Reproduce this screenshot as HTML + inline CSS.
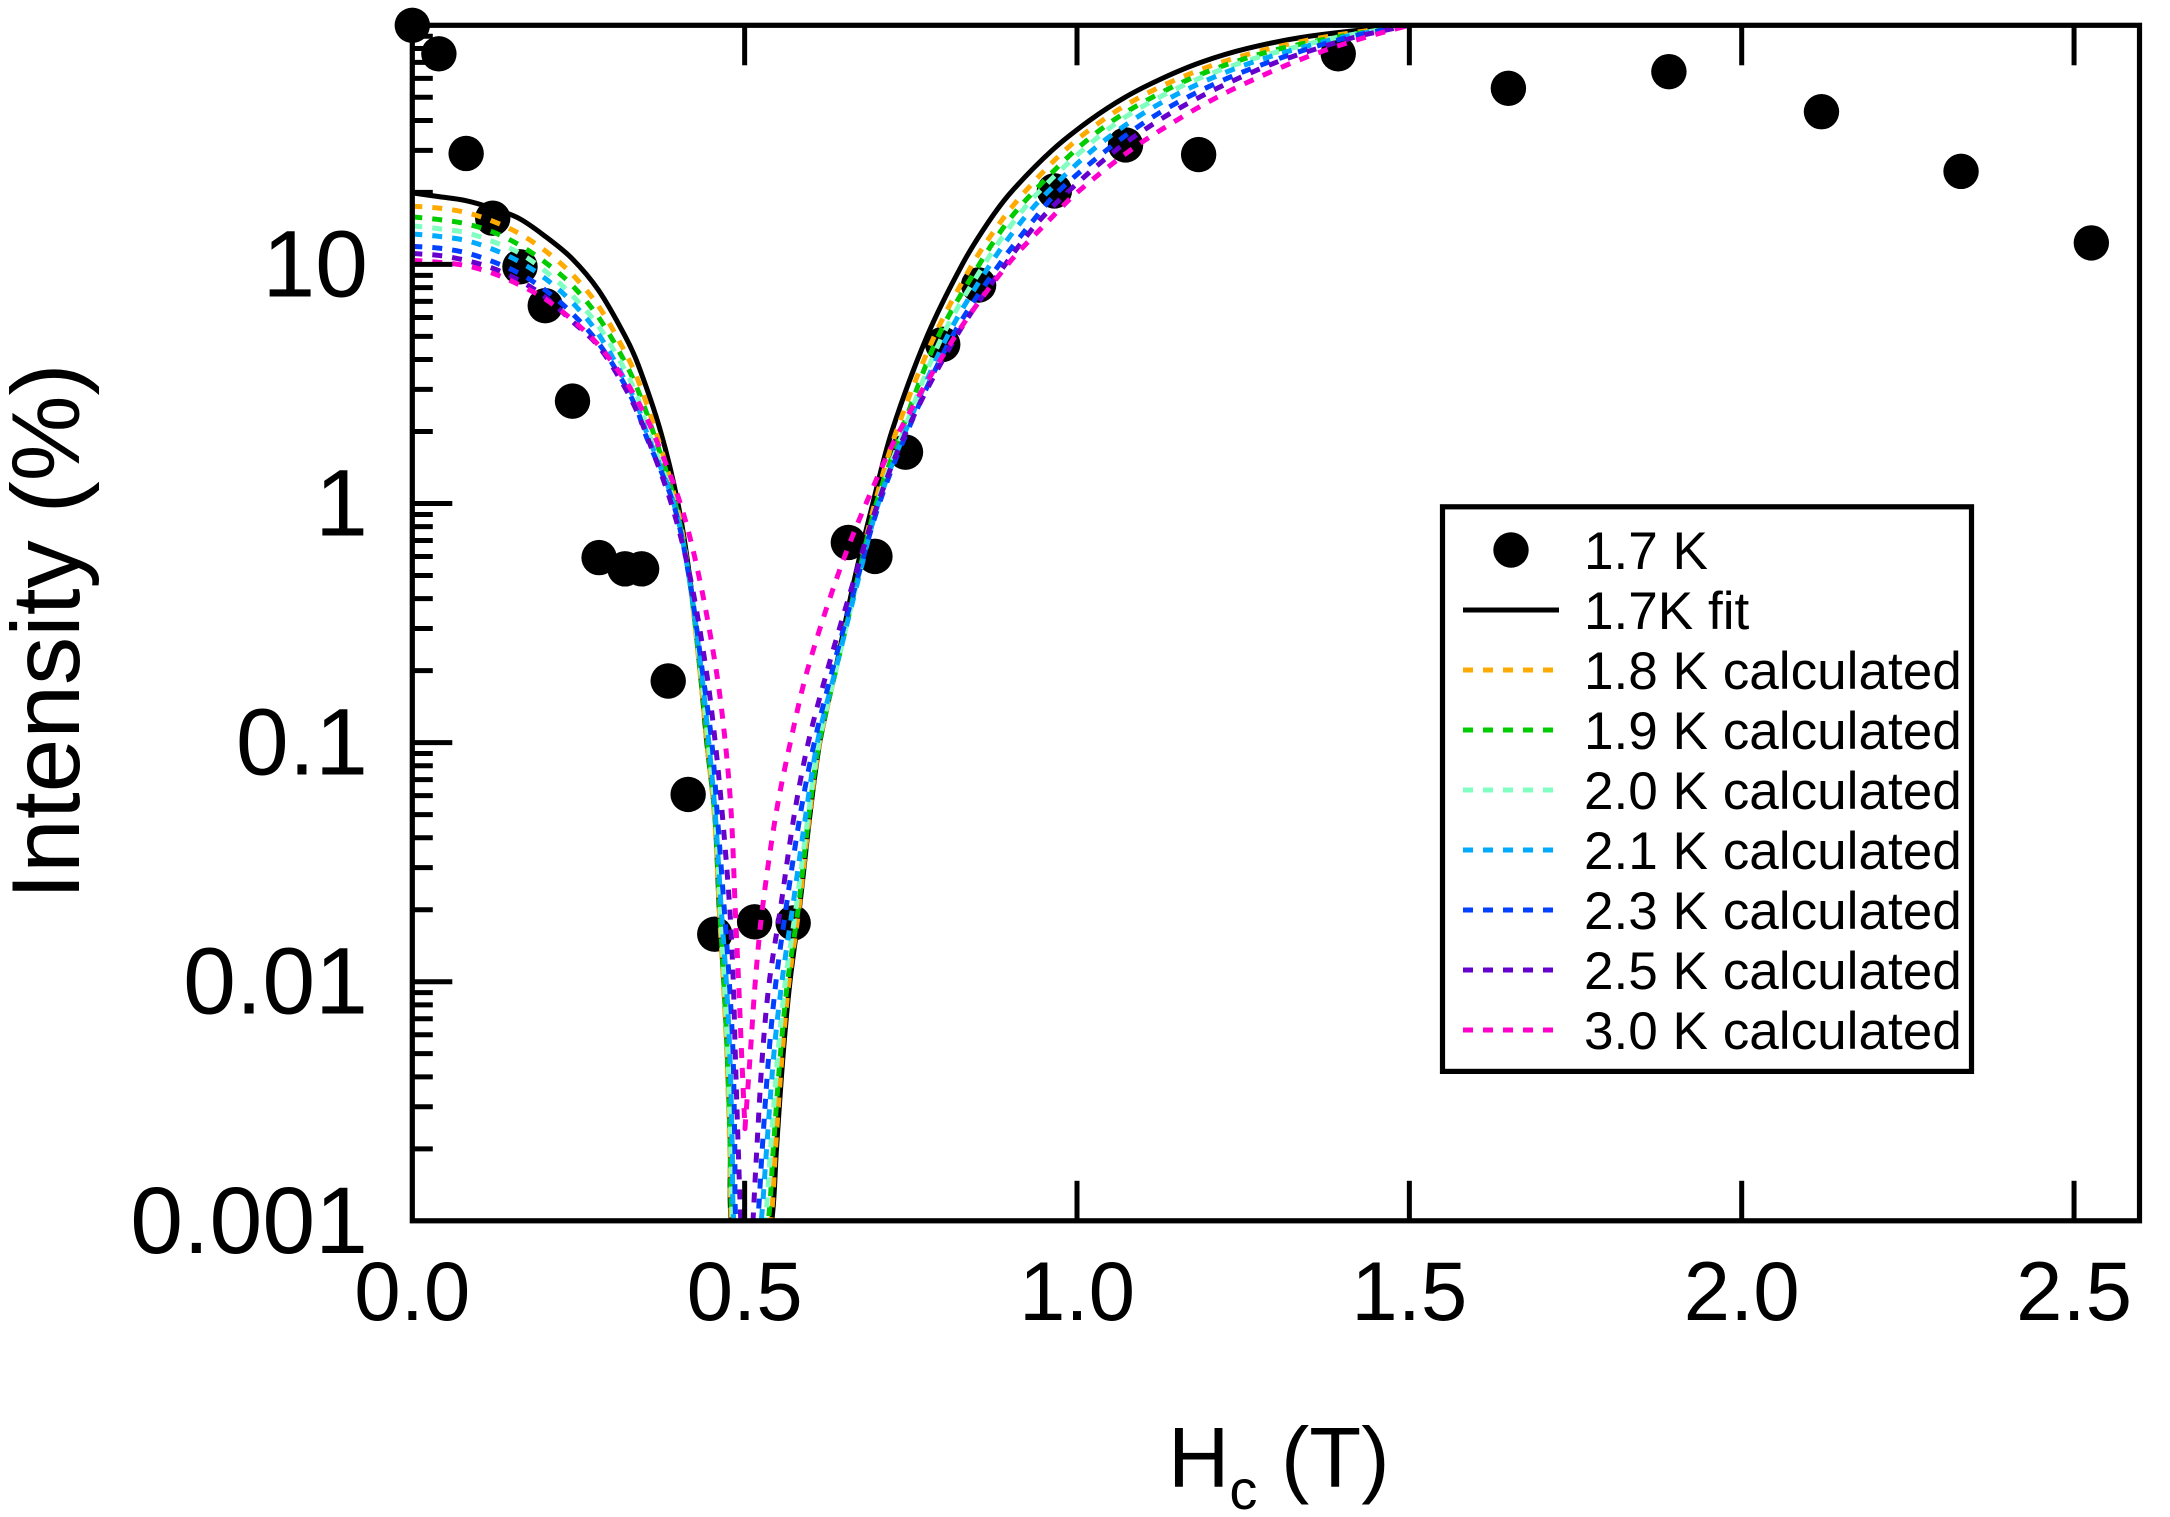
<!DOCTYPE html>
<html lang="en">
<head>
<meta charset="utf-8">
<title>Intensity vs Hc</title>
<style>
html,body{margin:0;padding:0;background:#fff;}
svg{display:block;font-family:"Liberation Sans",Arial,sans-serif;fill:#000;}
</style>
</head>
<body>
<svg id="chart" xmlns="http://www.w3.org/2000/svg" width="2170" height="1517" viewBox="0 0 2170 1517">
  <defs><clipPath id="plot-clip"><rect x="412.3" y="25.3" width="1727.2" height="1195.5"/></clipPath></defs>
  <rect width="2170" height="1517" fill="#fff"/>
  <g id="markers"></g>
  <g id="curves" clip-path="url(#plot-clip)"></g>
  <rect x="412.3" y="25.3" width="1727.2" height="1195.5" fill="none" stroke="#000" stroke-width="5.2"/>
  <g id="ticks"></g>
  <g id="tick-labels"></g>
  <text transform="translate(79 631.5) rotate(-90)" text-anchor="middle" font-size="96.5">Intensity (%)</text>
  <text x="1168" y="1487" font-size="85">H<tspan font-size="56" dy="22">c</tspan><tspan dy="-22"> (T)</tspan></text>
  <g>
    <rect x="1442.5" y="506.8" width="529" height="564.6" fill="#fff" stroke="#000" stroke-width="5.2"/>
    <circle cx="1511" cy="550" r="17.7" fill="#000"/>
    <line x1="1463" x2="1559" y1="610" y2="610" stroke="#000" stroke-width="5"/>
    <line x1="1463" x2="1553.5" y1="670" y2="670" stroke="#FFAA00" stroke-width="5" stroke-dasharray="10 10"/>
    <line x1="1463" x2="1553.5" y1="730" y2="730" stroke="#00CC00" stroke-width="5" stroke-dasharray="10 10"/>
    <line x1="1463" x2="1553.5" y1="790" y2="790" stroke="#80FFC0" stroke-width="5" stroke-dasharray="10 10"/>
    <line x1="1463" x2="1553.5" y1="850" y2="850" stroke="#00AAFF" stroke-width="5" stroke-dasharray="10 10"/>
    <line x1="1463" x2="1553.5" y1="910" y2="910" stroke="#0040FF" stroke-width="5" stroke-dasharray="10 10"/>
    <line x1="1463" x2="1553.5" y1="970" y2="970" stroke="#6600CC" stroke-width="5" stroke-dasharray="10 10"/>
    <line x1="1463" x2="1553.5" y1="1030" y2="1030" stroke="#FF00CC" stroke-width="5" stroke-dasharray="10 10"/>
    <g font-size="53.1">
      <text x="1584" y="569">1.7 K</text>
      <text x="1584" y="629">1.7K fit</text>
      <text x="1584" y="689">1.8 K calculated</text>
      <text x="1584" y="749">1.9 K calculated</text>
      <text x="1584" y="809">2.0 K calculated</text>
      <text x="1584" y="869">2.1 K calculated</text>
      <text x="1584" y="929">2.3 K calculated</text>
      <text x="1584" y="989">2.5 K calculated</text>
      <text x="1584" y="1049">3.0 K calculated</text>
    </g>
  </g>
</svg>
<script>
// Tick values and labels
const xTickValues = [0, 0.5, 1, 1.5, 2, 2.5];
const xTickLabels = ['0.0', '0.5', '1.0', '1.5', '2.0', '2.5'];
const yTickValues = [0.001, 0.01, 0.1, 1, 10];
const yTickLabels = ['0.001', '0.01', '0.1', '1', '10'];
const yMinorMultipliers = [2, 3, 4, 5, 6, 7, 8, 9];

// Measured points, 1.7 K
const pointField = [0, 0.04, 0.081, 0.121, 0.162, 0.2, 0.241, 0.281, 0.32, 0.345, 0.385, 0.415, 0.455, 0.515, 0.573, 0.656, 0.696, 0.742, 0.798, 0.852, 0.966, 1.073, 1.183, 1.393, 1.649, 1.8905, 2.12, 2.33, 2.526];
const pointIntensity = [100, 76, 29.1, 15.6, 9.77, 6.72, 2.68, 0.594, 0.533, 0.533, 0.181, 0.0607, 0.0158, 0.0178, 0.0176, 0.687, 0.601, 1.64, 4.63, 8.2, 20.3, 31.6, 28.8, 76, 54.5, 64, 43.5, 24.5, 12.3];

// Shared grids of the curves: shoulder field values, then intensity levels of both dip flanks
const shoulderField = [0, 0.04, 0.08, 0.12, 0.16, 0.2, 0.24, 0.28, 0.32, 0.34];
const leftLevels = [2, 1, 0.5, 0.2, 0.1, 0.05, 0.02, 0.01, 0.005, 0.002, 0.001];
const rightLevels = [100, 90, 80, 70, 60, 50, 40, 30, 20, 15, 10, 5, 2, 1, 0.5, 0.2, 0.1, 0.05, 0.02, 0.01, 0.005, 0.002, 0.001];

// 1.7 K fit
const fit17Shoulder = [19.9, 19.2, 18.5, 17.2, 15.6, 13.1, 10.6, 7.81, 5.02, 3.79];
const fit17Left = [0.3736, 0.3997, 0.417, 0.433, 0.4431, 0.4551, 0.4619, 0.4686, 0.4739, 0.4784, 0.4799];
const fit17Dip = [0.51, 0.0003];
const fit17Right = [1.5, 1.3495, 1.2562, 1.1864, 1.1283, 1.0723, 1.0189, 0.9625, 0.9005, 0.8665, 0.8274, 0.7743, 0.7214, 0.6928, 0.6665, 0.6364, 0.613, 0.5983, 0.5822, 0.5682, 0.558, 0.5479, 0.5408];

// 1.8 K
const calc18Shoulder = [17.5, 17.2, 16.5, 15.2, 13.5, 11.4, 9.12, 6.7, 4.3, 3.25];
const calc18Left = [0.3663, 0.3972, 0.416, 0.4325, 0.4431, 0.4543, 0.4619, 0.4679, 0.4731, 0.4777, 0.4807];
const calc18Dip = [0.51, 0.0003];
const calc18Right = [1.5, 1.3795, 1.2908, 1.2171, 1.1536, 1.0942, 1.038, 0.9818, 0.9207, 0.8846, 0.8425, 0.7853, 0.7281, 0.6958, 0.6695, 0.6371, 0.6127, 0.5977, 0.5815, 0.5667, 0.5565, 0.5464, 0.5393];

// 1.9 K
const calc19Shoulder = [15.8, 15.4, 14.8, 13.7, 12.1, 10.2, 8.2, 6.02, 3.9, 2.95];
const calc19Left = [0.3621, 0.3957, 0.416, 0.4333, 0.4438, 0.4551, 0.4626, 0.4686, 0.4739, 0.4784, 0.4814];
const calc19Dip = [0.508, 0.0003];
const calc19Right = [1.5, 1.3976, 1.3073, 1.2351, 1.1719, 1.1133, 1.0546, 0.9974, 0.9338, 0.8951, 0.853, 0.7913, 0.7357, 0.698, 0.671, 0.6371, 0.6123, 0.5968, 0.5804, 0.5646, 0.5539, 0.5431, 0.5356];

// 2.0 K
const calc20Shoulder = [14.5, 14.1, 13.6, 12.5, 11.2, 9.38, 7.45, 5.52, 3.61, 2.73];
const calc20Left = [0.355, 0.3942, 0.416, 0.434, 0.4453, 0.4558, 0.4634, 0.4694, 0.4746, 0.4792, 0.4822];
const calc20Dip = [0.507, 0.0003];
const calc20Right = [1.5, 1.4006, 1.3209, 1.2487, 1.184, 1.1238, 1.0651, 1.008, 0.9418, 0.9041, 0.8605, 0.7973, 0.7387, 0.6996, 0.6717, 0.6371, 0.6115, 0.5958, 0.5769, 0.5612, 0.55, 0.539, 0.5311];

// 2.1 K
const calc21Shoulder = [13.4, 13.1, 12.6, 11.6, 10.3, 8.73, 6.96, 5.11, 3.28, 2.51];
const calc21Left = [0.352, 0.3934, 0.416, 0.4348, 0.4461, 0.4558, 0.4649, 0.4724, 0.4777, 0.4814, 0.4837];
const calc21Dip = [0.504, 0.0003];
const calc21Right = [1.5, 1.4066, 1.3329, 1.2637, 1.202, 1.1418, 1.0832, 1.023, 0.9553, 0.9154, 0.8695, 0.8049, 0.7417, 0.7011, 0.6725, 0.6364, 0.6093, 0.592, 0.5717, 0.5561, 0.544, 0.533, 0.525];

// 2.3 K
const calc23Shoulder = [11.9, 11.7, 11.2, 10.3, 9.2, 7.81, 6.26, 4.69, 3.13, 2.39];
const calc23Left = [0.349, 0.3927, 0.416, 0.4363, 0.4506, 0.4588, 0.4694, 0.4769, 0.4825, 0.4852, 0.4867];
const calc23Dip = [0.503, 0.0003];
const calc23Right = [1.5, 1.4141, 1.3495, 1.2878, 1.2261, 1.1659, 1.1057, 1.0441, 0.9703, 0.932, 0.8831, 0.8124, 0.7447, 0.7026, 0.671, 0.6318, 0.6048, 0.5837, 0.5619, 0.5471, 0.5365, 0.5265, 0.5198];

// 2.5 K
const calc25Shoulder = [11.1, 10.9, 10.4, 9.66, 8.6, 7.3, 5.8, 4.55, 3.05, 2.36];
const calc25Left = [0.3505, 0.3896, 0.4175, 0.4423, 0.4558, 0.4664, 0.4777, 0.4829, 0.4859, 0.4904, 0.4942];
const calc25Dip = [0.5034, 0.0003];
const calc25Right = [1.5, 1.4232, 1.3615, 1.2998, 1.2426, 1.184, 1.123, 1.0583, 0.9854, 0.9413, 0.8921, 0.8184, 0.7432, 0.7003, 0.6665, 0.6243, 0.5957, 0.5747, 0.5536, 0.5371, 0.5269, 0.5183, 0.5126];

// 3.0 K (minimum stays above the lower axis limit)
const calc30Shoulder = [10.4, 10.2, 9.89, 9.2, 8.24, 7.16, 5.88, 4.6, 3.28, 2.65];
const calc30Left = [0.3618, 0.4032, 0.431, 0.4573, 0.4709, 0.4799, 0.4859, 0.4909, 0.4954];
const calc30Dip = [0.5005, 0.00243];
const calc30Right = [1.5, 1.4397, 1.381, 1.3254, 1.2697, 1.2106, 1.1494, 1.0802, 1.0004, 0.955, 0.8959, 0.8166, 0.7326, 0.6826, 0.64, 0.5942, 0.5687, 0.547, 0.5265, 0.516, 0.5085];

// Axis functions
const X_LEFT = 412.3, X_SCALE = 664.7;
const Y_TOP = 25.3, Y_BOTTOM = 1220.8, Y_LOG_MAX = 2, Y_LOG_MIN = -3;
function xPos(h) { return X_LEFT + h * X_SCALE; }
function yPos(v) { return Y_TOP + (Y_LOG_MAX - Math.log10(v)) * (Y_BOTTOM - Y_TOP) / (Y_LOG_MAX - Y_LOG_MIN); }

const SVG_NS = 'http://www.w3.org/2000/svg';
function tickLine(parent, x1, y1, x2, y2, name) {
  const l = document.createElementNS(SVG_NS, 'line');
  l.setAttribute('x1', x1);
  l.setAttribute('y1', y1);
  l.setAttribute('x2', x2);
  l.setAttribute('y2', y2);
  l.setAttribute('stroke', '#000');
  l.setAttribute('stroke-width', '5');
  
  
  parent.appendChild(l);
}
function label(parent, x, y, size, anchor, str, name) {
  const t = document.createElementNS(SVG_NS, 'text');
  t.setAttribute('x', x);
  t.setAttribute('y', y);
  t.setAttribute('font-size', size);
  t.setAttribute('text-anchor', anchor);
  
  
  t.textContent = str;
  parent.appendChild(t);
}

// Ticks
const ticksGroup = document.getElementById('ticks');
const labelsGroup = document.getElementById('tick-labels');
xTickValues.forEach(function (v, i) {
  const x = xPos(v);
  if (v > 0) {
    tickLine(ticksGroup, x, Y_TOP, x, Y_TOP + 40, 'x-tick-top');
    tickLine(ticksGroup, x, Y_BOTTOM, x, Y_BOTTOM - 40, 'x-tick-bottom');
  }
  label(labelsGroup, x, 1320, 83.5, 'middle', xTickLabels[i], 'x-tick-label');
});
yTickValues.forEach(function (v, i) {
  const y = yPos(v);
  if (i > 0) {
    tickLine(ticksGroup, X_LEFT, y, X_LEFT + 40, y, 'y-major-tick');
  }
  label(labelsGroup, 368, y + 32, 95, 'end', yTickLabels[i], 'y-tick-label');
  yMinorMultipliers.forEach(function (m) {
    tickLine(ticksGroup, X_LEFT, yPos(v * m), X_LEFT + 20.5, yPos(v * m), 'y-minor-tick');
  });
});

// Markers
const markerGroup = document.getElementById('markers');
pointField.forEach(function (h, i) {
  const c = document.createElementNS(SVG_NS, 'circle');
  c.setAttribute('cx', xPos(h));
  c.setAttribute('cy', yPos(pointIntensity[i]));
  c.setAttribute('r', '17.7');
  c.setAttribute('fill', '#000');
  
  
  markerGroup.appendChild(c);
});

// Curves: smooth path through the read values, with a sharp corner at the dip
function smoothPath(px, cornerIndex) {
  const tangents = px.map(function (p, i) {
    if (i === 0 || i === px.length - 1 || i === cornerIndex) {
      return null;
    }
    const dx = px[i + 1][0] - px[i - 1][0];
    const dy = px[i + 1][1] - px[i - 1][1];
    const n = Math.hypot(dx, dy) || 1;
    return [dx / n, dy / n];
  });
  let d = 'M' + px[0][0].toFixed(2) + ' ' + px[0][1].toFixed(2);
  for (let i = 0; i < px.length - 1; i++) {
    const a = px[i];
    const b = px[i + 1];
    const len = Math.hypot(b[0] - a[0], b[1] - a[1]) / 3;
    const ta = tangents[i];
    const tb = tangents[i + 1];
    const c1x = ta ? a[0] + ta[0] * len : a[0];
    const c1y = ta ? a[1] + ta[1] * len : a[1];
    const c2x = tb ? b[0] - tb[0] * len : b[0];
    const c2y = tb ? b[1] - tb[1] * len : b[1];
    d += ' C' + c1x.toFixed(2) + ' ' + c1y.toFixed(2) + ' ' + c2x.toFixed(2) + ' ' + c2y.toFixed(2) + ' ' + b[0].toFixed(2) + ' ' + b[1].toFixed(2);
  }
  return d;
}
function drawCurve(shoulder, left, dip, right, color, dashed, name) {
  const pts = [];
  shoulderField.forEach(function (h, i) { pts.push([h, shoulder[i]]); });
  left.forEach(function (h, i) { pts.push([h, leftLevels[i]]); });
  const cornerIndex = pts.length;
  pts.push(dip);
  const rising = right.map(function (h, i) { return [h, rightLevels[i]]; }).reverse();
  rising.forEach(function (p) { pts.push(p); });
  const px = pts.map(function (p) { return [xPos(p[0]), yPos(p[1])]; });
  const path = document.createElementNS(SVG_NS, 'path');
  path.setAttribute('d', smoothPath(px, cornerIndex));
  path.setAttribute('fill', 'none');
  path.setAttribute('stroke', color);
  path.setAttribute('stroke-width', '5');
  path.setAttribute('stroke-linejoin', 'round');
  if (dashed) {
    path.setAttribute('stroke-dasharray', '10 10');
  }
  
  
  document.getElementById('curves').appendChild(path);
}
drawCurve(fit17Shoulder, fit17Left, fit17Dip, fit17Right, '#000000', false, 'curve-1-7k-fit');
drawCurve(calc18Shoulder, calc18Left, calc18Dip, calc18Right, '#FFAA00', true, 'curve-1-8k');
drawCurve(calc19Shoulder, calc19Left, calc19Dip, calc19Right, '#00CC00', true, 'curve-1-9k');
drawCurve(calc20Shoulder, calc20Left, calc20Dip, calc20Right, '#80FFC0', true, 'curve-2-0k');
drawCurve(calc21Shoulder, calc21Left, calc21Dip, calc21Right, '#00AAFF', true, 'curve-2-1k');
drawCurve(calc23Shoulder, calc23Left, calc23Dip, calc23Right, '#0040FF', true, 'curve-2-3k');
drawCurve(calc25Shoulder, calc25Left, calc25Dip, calc25Right, '#6600CC', true, 'curve-2-5k');
drawCurve(calc30Shoulder, calc30Left, calc30Dip, calc30Right, '#FF00CC', true, 'curve-3-0k');
</script>
</body>
</html>
